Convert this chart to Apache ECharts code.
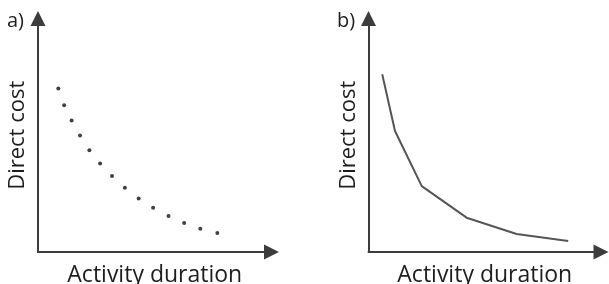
<!DOCTYPE html>
<html>
<head>
<meta charset="utf-8">
<script src="https://cdn.jsdelivr.net/npm/echarts@6/dist/echarts.min.js"></script>
<style>
html,body{margin:0;padding:0;background:#fff;}
#c{width:609px;height:284px;}
</style>
</head>
<body>
<div id="c"></div>
<script>
// Panel a) discrete points (arbitrary units 0-10)
const pointsA_x = [0.87, 1.12, 1.44, 1.80, 2.20, 2.66, 3.17, 3.72, 4.31, 4.93, 5.59, 6.26, 6.95, 7.68];
const pointsA_y = [7.00, 6.29, 5.63, 4.99, 4.36, 3.79, 3.25, 2.75, 2.29, 1.89, 1.54, 1.24, 1.00, 0.81];
// Panel b) piecewise-linear curve
const lineB_x = [0.59, 1.14, 2.29, 4.22, 6.37, 8.59];
const lineB_y = [7.61, 5.18, 2.82, 1.47, 0.77, 0.47];
const panelLabels = ['a)', 'b)'];
const xAxisName = 'Activity duration';
const yAxisName = 'Direct cost';

const FONT = '"Open Sans", sans-serif';
const TXT = '#1e1e1e';
const AX = '#3c3c3c';

function xAx(gi) {
  return {
    type: 'value', gridIndex: gi, min: 0, max: 10,
    name: xAxisName, nameLocation: 'middle', nameGap: 11.5,
    nameTextStyle: {fontFamily: FONT, fontSize: 23, color: TXT, verticalAlign: 'top'},
    axisLine: {show: true, symbol: ['none', 'triangle'], symbolSize: [15, 15],
      lineStyle: {color: AX, width: 2}},
    axisTick: {show: false}, axisLabel: {show: false}, splitLine: {show: false}
  };
}
function yAx(gi) {
  return {
    type: 'value', gridIndex: gi, min: 0, max: 10,
    name: yAxisName, nameLocation: 'middle', nameGap: 9, nameRotate: 90,
    nameTextStyle: {fontFamily: FONT, fontSize: 22, color: TXT},
    axisLine: {show: true, symbol: ['none', 'triangle'], symbolSize: [15, 15],
      lineStyle: {color: AX, width: 2}},
    axisTick: {show: false}, axisLabel: {show: false}, splitLine: {show: false}
  };
}

const chart = echarts.init(document.getElementById('c'));
chart.setOption({
  animation: false,
  backgroundColor: '#fff',
  title: [
    {text: panelLabels[0], left: 7, top: 11, padding: 0,
      textStyle: {fontFamily: FONT, fontSize: 20, fontWeight: 'normal', color: TXT}},
    {text: panelLabels[1], left: 337, top: 11, padding: 0,
      textStyle: {fontFamily: FONT, fontSize: 20, fontWeight: 'normal', color: TXT}}
  ],
  grid: [
    {left: 38, top: 18.5, width: 233.5, height: 233.5, containLabel: false, outerBoundsMode: 'none'},
    {left: 368.5, top: 18.5, width: 232.5, height: 233.5, containLabel: false, outerBoundsMode: 'none'}
  ],
  xAxis: [xAx(0), xAx(1)],
  yAxis: [yAx(0), yAx(1)],
  series: [
    {type: 'scatter', xAxisIndex: 0, yAxisIndex: 0,
      data: pointsA_x.map((x, i) => [x, pointsA_y[i]]),
      symbol: 'circle', symbolSize: 4, itemStyle: {color: '#111'}},
    {type: 'line', xAxisIndex: 1, yAxisIndex: 1,
      data: lineB_x.map((x, i) => [x, lineB_y[i]]),
      showSymbol: false, symbol: 'none',
      lineStyle: {color: '#555', width: 2}}
  ]
});
</script>
</body>
</html>
